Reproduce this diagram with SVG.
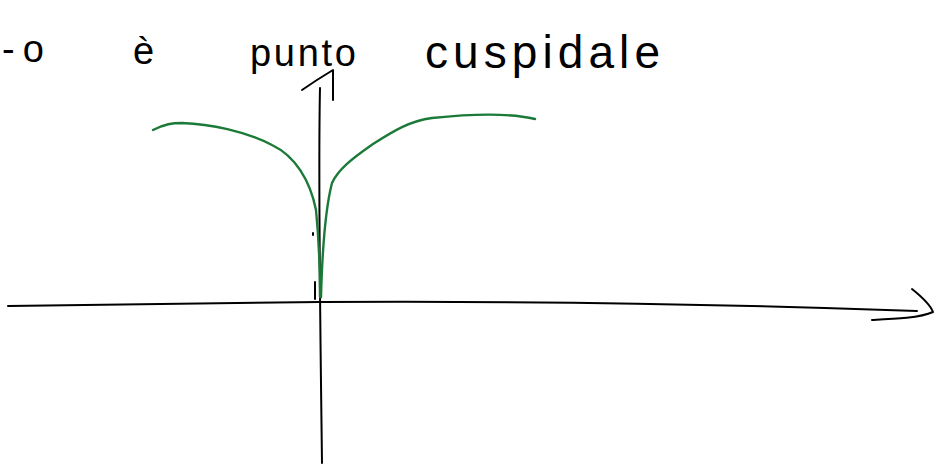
<svg xmlns="http://www.w3.org/2000/svg" width="941" height="465" viewBox="0 0 941 465">
<style>
.ink{fill:none;stroke:#000;stroke-width:2;stroke-linecap:round;stroke-linejoin:round}
.curve{fill:none;stroke:#1b7a38;stroke-width:2.4;stroke-linecap:round;stroke-linejoin:round}
.hw{font-family:"Liberation Sans","DejaVu Sans",sans-serif;font-size:38px;font-weight:normal;fill:#000}
</style>
<rect width="941" height="465" fill="#fff"/>
<g id="title">
<text class="hw" x="2" y="62" textLength="42" lengthAdjust="spacing">-o</text>
<text class="hw" x="133" y="64">è</text>
<text class="hw" x="250" y="66" textLength="106" lengthAdjust="spacing">punto</text>
<text class="hw" x="425" y="68" style="font-size:46px" textLength="235" lengthAdjust="spacing">cuspidale</text>
</g>
<g id="axes">
<path class="ink" d="M8,306 C100,305 200,303 320,302 C500,301 700,303 917,311"/>
<path class="ink" d="M912,289 C922,297 930,304 933,312 C920,318 895,319 872,320"/>
<path class="ink" d="M320,88 C318,180 320,300 322,463"/>
<path class="ink" d="M302,90 C312,83 323,76 333,70 C333,80 333,90 333,100"/>
<path class="ink" d="M313,233 L313,235"/>
<path class="ink" d="M315,282 L315,299"/>
</g>
<g id="cusp">
<path class="curve" d="M153,130 C165,124 172,123 182,123 C210,124 245,131 272,145 C295,156 310,180 316,210 C319,240 320,270 320,297"/>
<path class="curve" d="M321,297 C322,260 325,210 332,183 C338,170 350,160 373,144 C395,130 410,121 432,118 C470,114 510,113 535,119"/>
</g>
</svg>
